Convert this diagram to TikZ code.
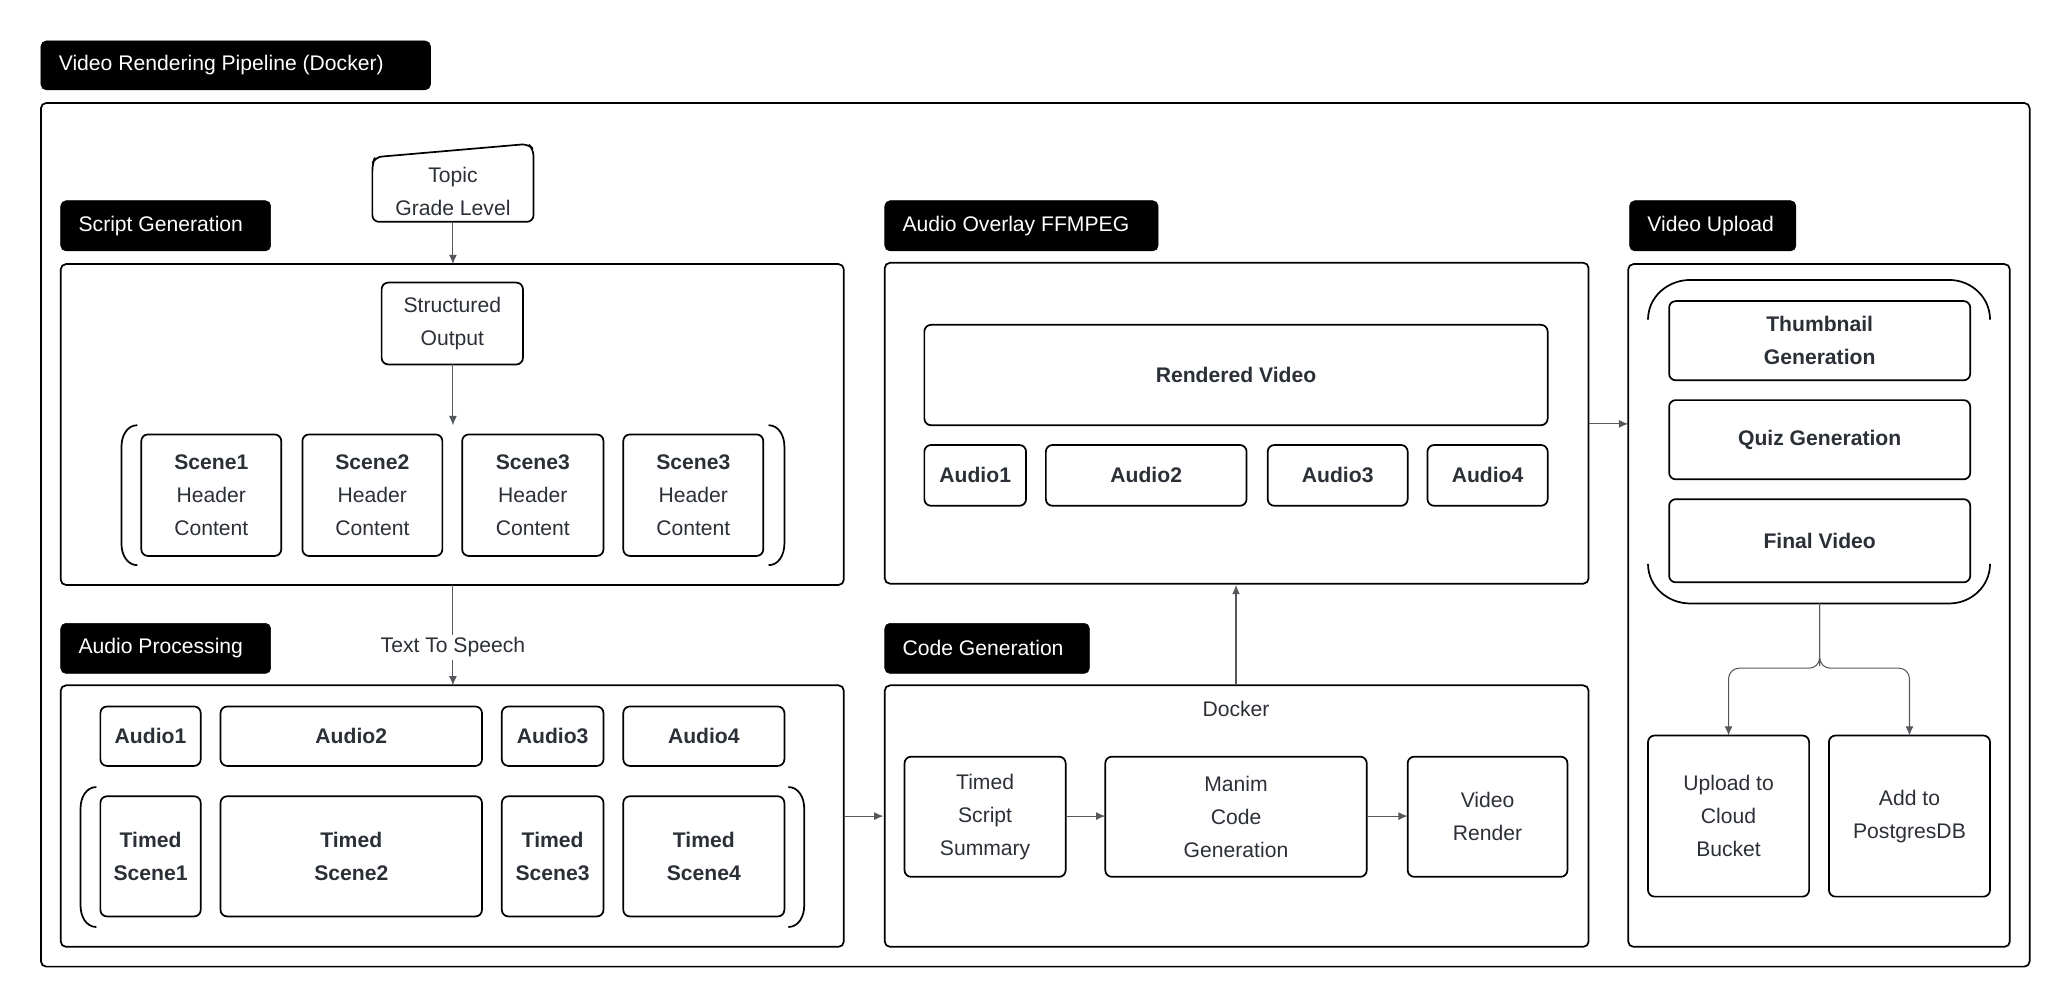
\documentclass[tikz,border=0pt]{standalone}
\usepackage{fontspec}
\setmainfont{Liberation Sans}
\usetikzlibrary{arrows.meta}
\definecolor{ink}{HTML}{2B2F36}
\begin{document}
\begin{tikzpicture}[x=1pt,y=-1pt,
  font=\fontsize{16}{19}\selectfont, text=ink,
  box/.style={draw=black,line width=1.3pt,rounded corners=5pt},
  grp/.style={draw=black,line width=1.3pt,rounded corners=4pt},
  lab/.style={fill=black,rounded corners=4pt,text=white,inner sep=0pt},
  arr/.style={draw=ink!80,line width=0.8pt,-{Latex[length=7pt,width=6pt]}},
  br/.style={draw=black,line width=1.3pt}]
\useasboundingbox (0,0) rectangle (1560,760);
\newcommand{\bx}[6]{\draw[#6] (#2,#3) rectangle (#4,#5); \node[align=center] (#1) at ({(#2+#4)/2},{(#3+#5)/2}) {};}
\newcommand{\nb}[6]{\draw[box] (#2,#3) rectangle (#4,#5); \node[align=center,font=\fontsize{16}{25}\selectfont#6] (#1) at ({(#2+#4)/2},{(#3+#5)/2}) {};}
\newcommand{\lbl}[6]{\draw[lab] (#2,#3) rectangle (#4,#5); \node[text=white,anchor=west] (#1) at ({#2+10},{(#3+#5)/2}) {#6};}
\newcommand{\lb}[5]{\draw[br] ({#1+12},#2) to[out=180,in=90] (#1,{#2+16}) -- (#1,{#4-16}) to[out=-90,in=180] ({#1+12},#4);
 \draw[br] ({#3-12},#2) to[out=0,in=90] (#3,{#2+16}) -- (#3,{#4-16}) to[out=-90,in=0] ({#3-12},#4);}
% title and outer
\lbl{t0}{31}{31}{326}{68}{Video Rendering Pipeline (Docker)}
\draw[grp] (31,78) rectangle (1537,732);
% topic
\draw[box] (282,124) -- (284,119) -- (400,109) -- (404,113) -- (404,168) -- (282,168) -- cycle;
\node[align=center,font=\fontsize{16}{25}\selectfont] (topic) at (343,145) {Topic\\Grade Level};
\coordinate (topicb) at (343,168);
% script generation
\lbl{t1}{46}{152}{205}{190}{Script Generation}
\draw[grp] (46,200) rectangle (639,443);
\draw[box] (289,214) rectangle (396,276);
\node[align=center,font=\fontsize{16}{25}\selectfont] (so) at (342.5,245) {Structured\\Output};
\coordinate (sot) at (343,214); \coordinate (sob) at (343,276);
\coordinate (sgt) at (343,200); \coordinate (brt) at (343,322);
\draw[arr] (topicb) -- (sgt);
\draw[arr] (sob) -- (brt);
\lb{92}{322}{594}{428}{}
\foreach \i/\a/\b/\n in {1/107/213/Scene1,2/229/335/Scene2,3/350/457/Scene3,4/472/578/Scene3}{
 \draw[box] (\a,329) rectangle (\b,421);
 \node[align=center,font=\fontsize{16}{25}\selectfont] (sc\i) at ({(\a+\b)/2},375) {\textbf{\n}\\Header\\Content};}
% audio processing
\lbl{t2}{46}{472}{205}{510}{Audio Processing}
\draw[grp] (46,519) rectangle (639,717);
\coordinate (sgb) at (343,443); \coordinate (apt) at (343,519);
\draw[arr] (sgb) -- node[fill=white,inner sep=2pt,yshift=-9pt] (tts) {Text To Speech} (apt);
\foreach \i/\a/\b in {1/76/152,2/167/365,3/380/457,4/472/594}{
 \draw[box] (\a,535) rectangle (\b,580);
 \node[font=\fontsize{16}{19}\selectfont\bfseries] (pa\i) at ({(\a+\b)/2},557.5) {Audio\i};
 \draw[box] (\a,603) rectangle (\b,694);
 \node[align=center,font=\fontsize{16}{25}\selectfont\bfseries] (ts\i) at ({(\a+\b)/2},648.5) {Timed\\Scene\i};}
\lb{61}{596}{609}{702}{}
% code generation
\lbl{t3}{670}{472}{825}{510}{Code Generation}
\draw[grp] (670,519) rectangle (1203,717);
\node (dock) at (936,537) {Docker};
\coordinate (apr) at (639,618); \coordinate (cgl) at (669,618);
\draw[arr] (apr) -- (cgl);
\draw[box] (685,573) rectangle (807,664);
\node[align=center,font=\fontsize{16}{25}\selectfont] (tss) at (746,618.5) {Timed\\Script\\Summary};
\draw[box] (837,573) rectangle (1035,664);
\node[align=center,font=\fontsize{16}{25}\selectfont] (mcg) at (936,618.5) {Manim\\Code\\Generation};
\draw[box] (1066,573) rectangle (1187,664);
\node[align=center,font=\fontsize{16}{25}\selectfont] (vr) at (1126.5,618.5) {Video\\Render};
\coordinate (tssr) at (807,618); \coordinate (mcgl) at (837,618);
\coordinate (mcgr) at (1035,618); \coordinate (vrl) at (1066,618);
\draw[arr] (tssr) -- (mcgl); \draw[arr] (mcgr) -- (vrl);
\coordinate (cgt) at (936,519); \coordinate (aob) at (936,443);
\draw[arr] (cgt) -- (aob);
% audio overlay
\lbl{t4}{670}{152}{877}{190}{Audio Overlay FFMPEG}
\draw[grp] (670,199) rectangle (1203,442);
\draw[box] (700,246) rectangle (1172,322);
\node[font=\fontsize{16}{19}\selectfont\bfseries] (rv) at (936,284) {Rendered Video};
\foreach \i/\a/\b in {1/700/777,2/792/944,3/960/1066,4/1081/1172}{
 \draw[box] (\a,337) rectangle (\b,383);
 \node[font=\fontsize{16}{19}\selectfont\bfseries] (oa\i) at ({(\a+\b)/2},360) {Audio\i};}
\coordinate (aor) at (1203,321); \coordinate (vul) at (1233,321);
\draw[arr] (aor) -- (vul);
% video upload
\lbl{t5}{1234}{152}{1360}{190}{Video Upload}
\draw[grp] (1233,200) rectangle (1522,717);
\draw[br] (1248,242) to[out=90,in=180] (1280,212) -- (1476,212) to[out=0,in=90] (1507,242);
\draw[br] (1248,427) to[out=-90,in=180] (1280,457) -- (1476,457) to[out=0,in=-90] (1507,427);
\draw[box] (1264,228) rectangle (1492,288);
\node[align=center,font=\fontsize{16}{25}\selectfont\bfseries] (thumb) at (1378,258) {Thumbnail\\Generation};
\draw[box] (1264,303) rectangle (1492,363);
\node[font=\fontsize{16}{19}\selectfont\bfseries] (quiz) at (1378,333) {Quiz Generation};
\draw[box] (1264,378) rectangle (1492,441);
\node[font=\fontsize{16}{19}\selectfont\bfseries] (fv) at (1378,409.5) {Final Video};
\draw[box] (1248,557) rectangle (1370,679);
\node[align=center,font=\fontsize{16}{25}\selectfont] (up) at (1309,618) {Upload to\\Cloud\\Bucket};
\draw[box] (1385,557) rectangle (1507,679);
\node[align=center,font=\fontsize{16}{25}\selectfont] (pg) at (1446,618) {Add to\\PostgresDB};
\coordinate (bb) at (1378,457); \coordinate (upt) at (1309,557); \coordinate (pgt) at (1446,557);
\draw[arr,rounded corners=8pt] (bb) -- (1378,496) -- (1378,506) -- (1309,506) -- (upt);
\draw[arr,rounded corners=8pt] (bb) -- (1378,496) -- (1378,506) -- (1446,506) -- (pgt);
\end{tikzpicture}
\end{document}
